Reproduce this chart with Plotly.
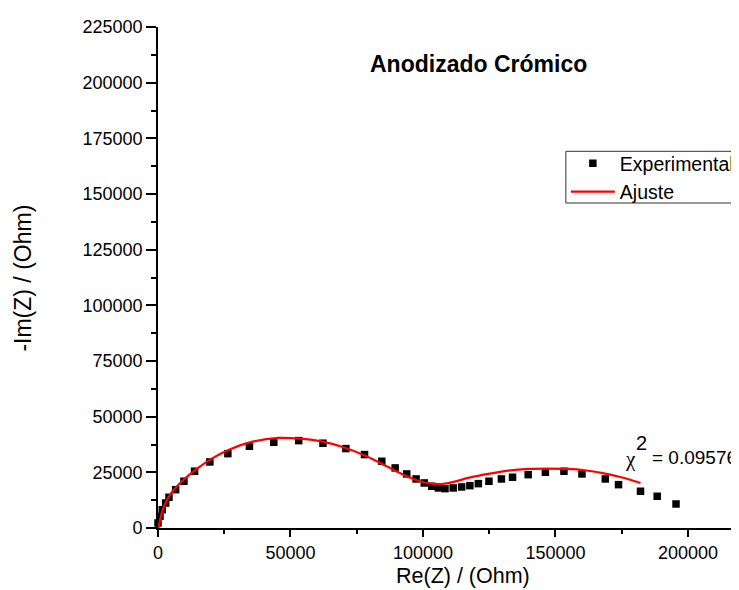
import plotly.graph_objects as go

# ---- data ----
exp_re = [0, 750, 1620, 2900, 4140, 6660, 9790, 13800, 19580, 26360, 34500, 43700,
          53100, 62250, 70900, 77940, 84460, 89500, 93870, 97400, 100500, 103300,
          105800, 108300, 111400, 114600, 117700, 120900, 124900, 129600, 133800,
          139700, 146200, 153200, 160000, 168800, 173800, 182100, 188400, 195500]
exp_im = [2250, 5260, 8230, 11240, 13790, 17220, 21000, 25500, 29670, 33400, 36700, 38500,
          39250, 38080, 35660, 32970, 29970, 26980, 24280, 22030, 20230, 18750,
          17980, 17670, 17980, 18430, 19020, 19920, 20990, 22030, 22800,
          23960, 25040, 25490, 24280, 22030, 19470, 16500, 14250, 10790]

fit_re = [190, 820, 1820, 3330, 5210, 7730, 10860, 14630, 20280, 27220, 35360, 45430,
          53610, 61150, 69930, 78720, 86260, 92550, 98850, 103860, 107630, 111400,
          117100, 124600, 132200, 139700, 147200, 154700, 161000, 167300, 174800, 182100]
fit_im = [0, 3730, 8230, 12450, 16050, 19470, 22930, 26530, 31160, 35380, 38670, 40460,
          40150, 38980, 36280, 32240, 27740, 23960, 21000, 19780, 19780, 20680,
          22480, 24280, 25760, 26530, 26660, 26530, 25940, 24730, 22800, 20230]

y_ticks = [0, 25000, 50000, 75000, 100000, 125000, 150000, 175000, 200000, 225000]
x_ticks = [0, 50000, 100000, 150000, 200000]

W, H = 739, 590
L, T, B = 149.5, 19, 70
PW = W - L
PH = H - T - B

def px(x):
    return (x - L) / PW

def py(y):
    return (H - B - y) / PH

FONT = "Liberation Sans, Arial, sans-serif"

fig = go.Figure()
fig.add_trace(go.Scatter(x=exp_re, y=exp_im, mode="markers", name="Experimental",
                         marker=dict(symbol="square", size=7.5, color="black",
                                     line=dict(width=0)),
                         cliponaxis=False))
fig.add_trace(go.Scatter(x=fit_re, y=fit_im, mode="lines", name="Ajuste",
                         line=dict(color="#ff0000", width=2.2, shape="spline",
                                   smoothing=0.8)))

xmax = PW / 132.6 * 50000

fig.update_layout(
    width=W, height=H,
    margin=dict(l=L, r=0, t=T, b=B, autoexpand=False),
    paper_bgcolor="white", plot_bgcolor="white",
    font=dict(family=FONT, size=18, color="black"),
    showlegend=True,
    legend=dict(x=px(557.7), y=py(169.5), xanchor="left", yanchor="middle",
                bgcolor="rgba(0,0,0,0)", borderwidth=0,
                font=dict(family=FONT, size=19.5, color="black"),
                tracegroupgap=0, itemwidth=44),
    shapes=[dict(type="rect", xref="paper", yref="paper",
                 x0=px(557.7), x1=px(760), y0=py(195), y1=py(143.3),
                 line=dict(color="#333333", width=1), fillcolor="white",
                 layer="above")],
    xaxis=dict(range=[0, xmax], tickmode="array", tickvals=x_ticks,
               ticktext=[str(v) for v in x_ticks],
               showgrid=False, zeroline=False, showline=True, linecolor="black",
               linewidth=1.8, ticks="outside", ticklen=7, tickwidth=1.8,
               tickcolor="black", tickfont=dict(family=FONT, size=18),
               minor=dict(dtick=25000, tick0=0, ticks="outside", ticklen=4,
                          tickwidth=1.8, tickcolor="black", showgrid=False)),
    yaxis=dict(range=[0, 225000], tickmode="array", tickvals=y_ticks,
               ticktext=[str(v) for v in y_ticks],
               showgrid=False, zeroline=False, showline=True, linecolor="black",
               linewidth=1.8, ticks="outside", ticklen=10, tickwidth=1.8,
               tickcolor="black", tickfont=dict(family=FONT, size=18),
               minor=dict(dtick=12500, tick0=0, ticks="outside", ticklen=5,
                          tickwidth=1.8, tickcolor="black", showgrid=False)),
    annotations=[
        dict(text="Re(Z) / (Ohm)", xref="paper", yref="paper",
             x=px(454.5), y=py(568), xanchor="center", yanchor="middle",
             showarrow=False, font=dict(family=FONT, size=21.5, color="black")),
        dict(text="-Im(Z) / (Ohm)", xref="paper", yref="paper", textangle=-90,
             x=px(14), y=py(270), xanchor="center", yanchor="middle",
             showarrow=False, font=dict(family=FONT, size=23, color="black")),
        dict(text="<b>Anodizado Crómico</b>", xref="paper", yref="paper",
             x=px(470), y=py(56), xanchor="center", yanchor="middle",
             showarrow=False, font=dict(family=FONT, size=23, color="black")),
        dict(text="χ", xref="paper", yref="paper", x=px(622), y=py(451),
             xanchor="center", yanchor="middle", showarrow=False,
             font=dict(family="Liberation Serif, serif", size=21, color="black")),
        dict(text="2", xref="paper", yref="paper", x=px(633), y=py(435),
             xanchor="center", yanchor="middle", showarrow=False,
             font=dict(family=FONT, size=20, color="black")),
        dict(text="= 0.09576", xref="paper", yref="paper", x=px(642), y=py(449.5),
             xanchor="left", yanchor="middle", showarrow=False,
             font=dict(family=FONT, size=19, color="black")),
    ],
)

fig.write_html("out.html")
